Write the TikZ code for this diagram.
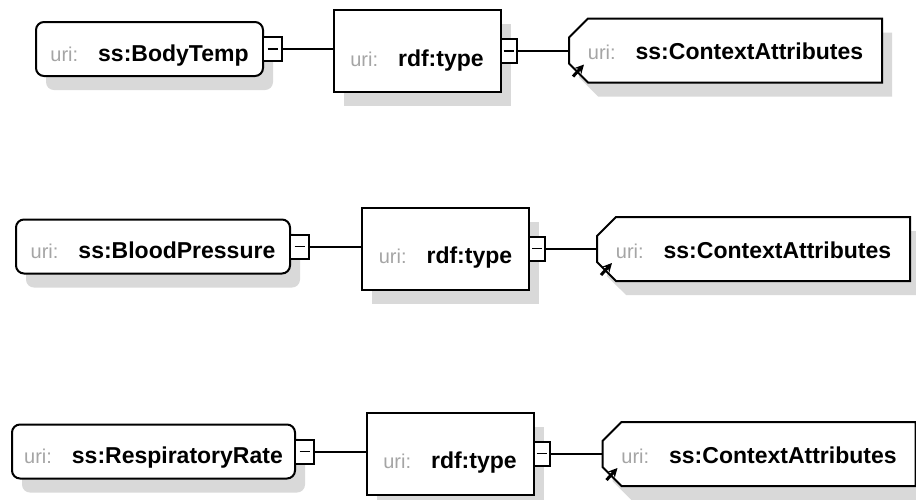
\documentclass[tikz,border=0pt]{standalone}
\usepackage{fontspec}
\setmainfont{Liberation Sans}
\usepackage{tikz}
\usetikzlibrary{positioning}
\usetikzlibrary{arrows.meta}
\usetikzlibrary{shapes.misc}
\usetikzlibrary{shadows}

\definecolor{urigray}{RGB}{165,165,165}
\newcommand{\uriname}[1]{{\fontsize{10}{12}\selectfont\color{urigray}uri:}\hspace{10pt}\textbf{#1}}

\begin{document}
\begin{tikzpicture}[x=0.5pt,y=-0.5pt]
        \tikzstyle{shade}=[drop shadow={shadow xshift=5pt,shadow yshift=-7pt,
            fill=gray!30,opacity=1}]
        \tikzstyle{box}=[draw,line width=1pt,fill=white,inner sep=0pt,
            text depth=0pt,font=\fontsize{11.5}{13}\selectfont,shade]
        \tikzstyle{resource}=[box,rounded corners=4pt,minimum height=27pt,text height=12pt]
        \tikzstyle{property}=[box,minimum width=83.5pt,minimum height=41pt,text height=15pt]
        \tikzstyle{context}=[box,chamfered rectangle,chamfered rectangle xsep=5pt,
            chamfered rectangle ysep=5pt,chamfered rectangle corners={north west,south west},
            minimum width=156.5pt,minimum height=32pt,text height=9pt]
        \tikzstyle{expander}=[draw,line width=1pt,fill=white,minimum height=12pt,
            inner sep=0pt,path picture={\draw[line width=0.6pt]
            ([xshift=-2.5pt]path picture bounding box.center) --
            ([xshift=2.5pt]path picture bounding box.center);}]
        \tikzstyle{link}=[line width=1pt]
        \tikzstyle{hook}=[-{Stealth[length=4.5pt,width=4.5pt]},line width=1.5pt]

        \fill[white] (0,0) rectangle (916,499);
        \useasboundingbox (0,0) rectangle (916,499);

        % ss:BodyTemp
        \node[resource,minimum width=113.5pt] (bt) at (149.5,49) {\uriname{ss:BodyTemp}};
        \node[expander,minimum width=9.5pt,right=-1pt of bt] (btx) {};
        \node[property] (btt) at (417,51) {\uriname{rdf:type}};
        \node[expander,minimum width=8pt,right=-1pt of btt] (bttx) {};
        \node[context] (btc) at (725.5,50.5) {\uriname{ss:ContextAttributes}};
        \draw[link] (btx.east) -- (btx.east -| btt.west);
        \draw[link] (bttx.east) -- (bttx.east -| btc.west);
        \draw[hook] ([shift={(2.5pt,-13pt)}]btc.west) -- ++(5.5pt,6pt);

        % ss:BloodPressure
        \node[resource,minimum width=137pt] (bp) at (153,246.5) {\uriname{ss:BloodPressure}};
        \node[expander,minimum width=9.5pt,right=-1pt of bp] (bpx) {};
        \node[property] (bpt) at (445.5,248.5) {\uriname{rdf:type}};
        \node[expander,minimum width=8pt,right=-1pt of bpt] (bptx) {};
        \node[context] (bpc) at (753.5,249) {\uriname{ss:ContextAttributes}};
        \draw[link] (bpx.east) -- (bpx.east -| bpt.west);
        \draw[link] (bptx.east) -- (bptx.east -| bpc.west);
        \draw[hook] ([shift={(2.5pt,-13pt)}]bpc.west) -- ++(5.5pt,6pt);

        % ss:RespiratoryRate
        \node[resource,minimum width=141.5pt] (rr) at (153.5,451.5) {\uriname{ss:RespiratoryRate}};
        \node[expander,minimum width=9.5pt,right=-1pt of rr] (rrx) {};
        \node[property] (rrt) at (450,453.5) {\uriname{rdf:type}};
        \node[expander,minimum width=8pt,right=-1pt of rrt] (rrtx) {};
        \node[context] (rrc) at (759,454) {\uriname{ss:ContextAttributes}};
        \draw[link] (rrx.east) -- (rrx.east -| rrt.west);
        \draw[link] (rrtx.east) -- (rrtx.east -| rrc.west);
        \draw[hook] ([shift={(2.5pt,-13pt)}]rrc.west) -- ++(5.5pt,6pt);
\end{tikzpicture}
\end{document}
